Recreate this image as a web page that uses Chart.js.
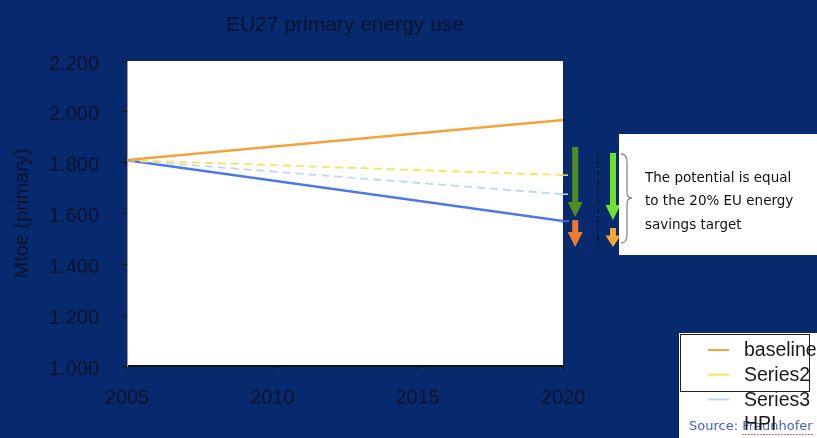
<!DOCTYPE html>
<html>
<head>
<meta charset="utf-8">
<script src="https://cdn.jsdelivr.net/npm/chart.js@4"></script>
<style>
  html, body { margin: 0; padding: 0; background: #072a6e; }
  canvas { display: block; }
</style>
</head>
<body>
<canvas id="c" width="817" height="438"></canvas>
<script>
// EU27 primary energy use, Mtoe (primary), 2005 -> 2020
const years = [2005, 2020];
const baseline = [1810, 1968];
const series2 = [1810, 1751];
const series3 = [1810, 1676];
const hpi = [1810, 1570];

const yTickValues = [1000, 1200, 1400, 1600, 1800, 2000, 2200];
const yTickLabels = ['1.000', '1.200', '1.400', '1.600', '1.800', '2.000', '2.200'];
const xTickLabels = ['2005', '2010', '2015', '2020'];

// savings arrows beside the 2020 end points: [year, from, to, colour]
const savingArrows = [
  [2020.42, 1862, 1586, '#4f8f1e'],
  [2020.42, 1574, 1468, '#ef7a32'],
  [2021.72, 1838, 1574, '#70e030'],
  [2021.72, 1543, 1468, '#f5a533']
];

const NAVY = '#072a6e';
const INK = '#0b1230';

const toPoints = vals => vals.map((v, i) => ({ x: years[i], y: v }));

const deco = {
  id: 'deco',
  beforeDraw(chart) {
    const { ctx, chartArea: a } = chart;
    ctx.save();
    ctx.fillStyle = NAVY;
    ctx.fillRect(0, 0, chart.width, chart.height);
    ctx.fillStyle = '#ffffff';
    ctx.fillRect(a.left, a.top, a.right - a.left, a.bottom - a.top);
    ctx.restore();
  },
  afterDraw(chart) {
    const { ctx, chartArea: a, scales: { x, y } } = chart;
    ctx.save();

    // title
    ctx.fillStyle = INK;
    ctx.font = '21px "Liberation Sans", Arial, sans-serif';
    ctx.textAlign = 'center';
    ctx.textBaseline = 'alphabetic';
    ctx.fillText('EU27 primary energy use', (a.left + a.right) / 2, 31);

    // short continuations of the 2020 levels towards the arrows
    const ext = [[series2, '#f6e35a', [5, 3]], [series3, '#bcd6f7', [5, 3]], [hpi, '#4d79e6', []]];
    ext.forEach(([vals, col, dash]) => {
      const py = y.getPixelForValue(vals[vals.length - 1]);
      ctx.strokeStyle = col;
      ctx.lineWidth = 1.5;
      ctx.setLineDash(dash);
      ctx.beginPath();
      ctx.moveTo(a.right, py);
      ctx.lineTo(a.right + 6, py);
      ctx.stroke();
    });
    ctx.setLineDash([]);

    // dashed separator between the two arrow columns
    ctx.strokeStyle = '#0a1535';
    ctx.lineWidth = 1.5;
    ctx.setLineDash([6, 3]);
    ctx.beginPath();
    ctx.moveTo(x.getPixelForValue(2021.2), y.getPixelForValue(1838));
    ctx.lineTo(x.getPixelForValue(2021.2), y.getPixelForValue(1468));
    ctx.stroke();
    ctx.setLineDash([]);

    // arrows
    savingArrows.forEach(([yr, from, to, col]) => {
      const px = x.getPixelForValue(yr);
      const y0 = y.getPixelForValue(from);
      const y1 = y.getPixelForValue(to);
      const head = Math.min(15, (y1 - y0) * 0.6);
      ctx.fillStyle = col;
      ctx.fillRect(px - 3, y0, 6, y1 - y0 - head + 0.5);
      ctx.beginPath();
      ctx.moveTo(px - 7.5, y1 - head);
      ctx.lineTo(px + 7.5, y1 - head);
      ctx.lineTo(px, y1);
      ctx.closePath();
      ctx.fill();
    });

    // note box
    ctx.fillStyle = '#ffffff';
    ctx.fillRect(619, 134, 198, 121);

    // curly brace
    ctx.strokeStyle = '#8a8a8a';
    ctx.lineWidth = 1.3;
    const bx = 621, bt = 154, bb = 243, bm = 198;
    ctx.beginPath();
    ctx.moveTo(bx, bt);
    ctx.quadraticCurveTo(bx + 6, bt, bx + 6, bt + 8);
    ctx.lineTo(bx + 6, bm - 6);
    ctx.quadraticCurveTo(bx + 6, bm, bx + 11, bm);
    ctx.quadraticCurveTo(bx + 6, bm, bx + 6, bm + 6);
    ctx.lineTo(bx + 6, bb - 8);
    ctx.quadraticCurveTo(bx + 6, bb, bx, bb);
    ctx.stroke();

    ctx.fillStyle = '#111111';
    ctx.font = '13.5px "DejaVu Sans", sans-serif';
    ctx.textAlign = 'left';
    ctx.textBaseline = 'middle';
    ['The potential is equal', 'to the 20% EU energy', 'savings target']
      .forEach((t, i) => ctx.fillText(t, 645, 178 + i * 23.5));

    // legend
    ctx.fillStyle = '#ffffff';
    ctx.fillRect(679, 333, 138, 105);
    ctx.strokeStyle = '#222222';
    ctx.lineWidth = 1;
    ctx.strokeRect(680.5, 334.5, 129, 57);

    // source line (sits under the last legend entry)
    ctx.font = '13px "DejaVu Sans", sans-serif';
    ctx.fillStyle = '#3f63c8';
    ctx.fillText('Source: Fraunhofer', 689, 427);
    const fw = ctx.measureText('Source: ').width;
    const fw2 = ctx.measureText('Fraunhofer').width;
    ctx.strokeStyle = '#e03030';
    ctx.setLineDash([1.5, 1.5]);
    ctx.beginPath();
    ctx.moveTo(689 + fw, 434.5);
    ctx.lineTo(689 + fw + fw2, 434.5);
    ctx.stroke();
    ctx.setLineDash([]);

    ctx.font = '19.5px "Liberation Sans", Arial, sans-serif';
    chart.data.datasets.forEach((ds, i) => {
      const cy = 350 + i * 24.7;
      if (i < 3) {
        ctx.strokeStyle = ds.borderColor;
        ctx.lineWidth = 2;
        ctx.beginPath();
        ctx.moveTo(708, cy);
        ctx.lineTo(729, cy);
        ctx.stroke();
      }
      ctx.fillStyle = '#1a1a1a';
      ctx.fillText(ds.label, 744, cy + 1);
    });

    ctx.restore();
  }
};

new Chart(document.getElementById('c'), {
  type: 'line',
  data: {
    datasets: [
      { label: 'baseline', data: toPoints(baseline), borderColor: '#f2a33a', borderWidth: 2.5 },
      { label: 'Series2', data: toPoints(series2), borderColor: '#f6e35a', borderWidth: 1.8, borderDash: [8, 5] },
      { label: 'Series3', data: toPoints(series3), borderColor: '#bcd6f7', borderWidth: 1.8, borderDash: [8, 5] },
      { label: 'HPI', data: toPoints(hpi), borderColor: '#4d79e6', borderWidth: 2.5 }
    ].map(d => Object.assign(d, { pointRadius: [0, 1.5], pointBackgroundColor: d.borderColor, pointBorderWidth: 0, tension: 0 }))
  },
  options: {
    responsive: false,
    devicePixelRatio: 1,
    animation: false,
    layout: { padding: { top: 61, right: 254, bottom: 0, left: 0 } },
    plugins: { legend: { display: false }, title: { display: false }, tooltip: { enabled: false } },
    scales: {
      x: {
        type: 'linear',
        min: 2005,
        max: 2020,
        afterFit: s => { s.height = 72; },
        afterBuildTicks: s => { s.ticks = xTickLabels.map(v => ({ value: Number(v) })); },
        ticks: {
          callback: v => xTickLabels[xTickLabels.indexOf(String(v))],
          color: INK,
          font: { family: '"Liberation Sans", Arial, sans-serif', size: 20 },
          padding: 16,
          maxRotation: 0
        },
        grid: { drawOnChartArea: false, tickLength: 4, color: '#111111', tickWidth: 1 },
        border: { color: '#111111', width: 2 }
      },
      y: {
        min: 1000,
        max: 2200,
        afterFit: s => { s.width = 127; },
        afterBuildTicks: s => { s.ticks = yTickValues.map(v => ({ value: v })); },
        ticks: {
          callback: v => yTickLabels[yTickValues.indexOf(v)],
          color: INK,
          font: { family: '"Liberation Sans", Arial, sans-serif', size: 20 },
          padding: 23,
          labelOffset: 3
        },
        grid: { drawOnChartArea: false, tickLength: 5, color: '#111111', tickWidth: 1 },
        border: { color: '#9a9a9a', width: 1 },
        title: {
          display: true,
          text: 'Mtoe (primary)',
          color: INK,
          font: { family: '"Liberation Sans", Arial, sans-serif', size: 20 },
          padding: { top: 10, bottom: 0 }
        }
      }
    }
  },
  plugins: [deco]
});
</script>
</body>
</html>
